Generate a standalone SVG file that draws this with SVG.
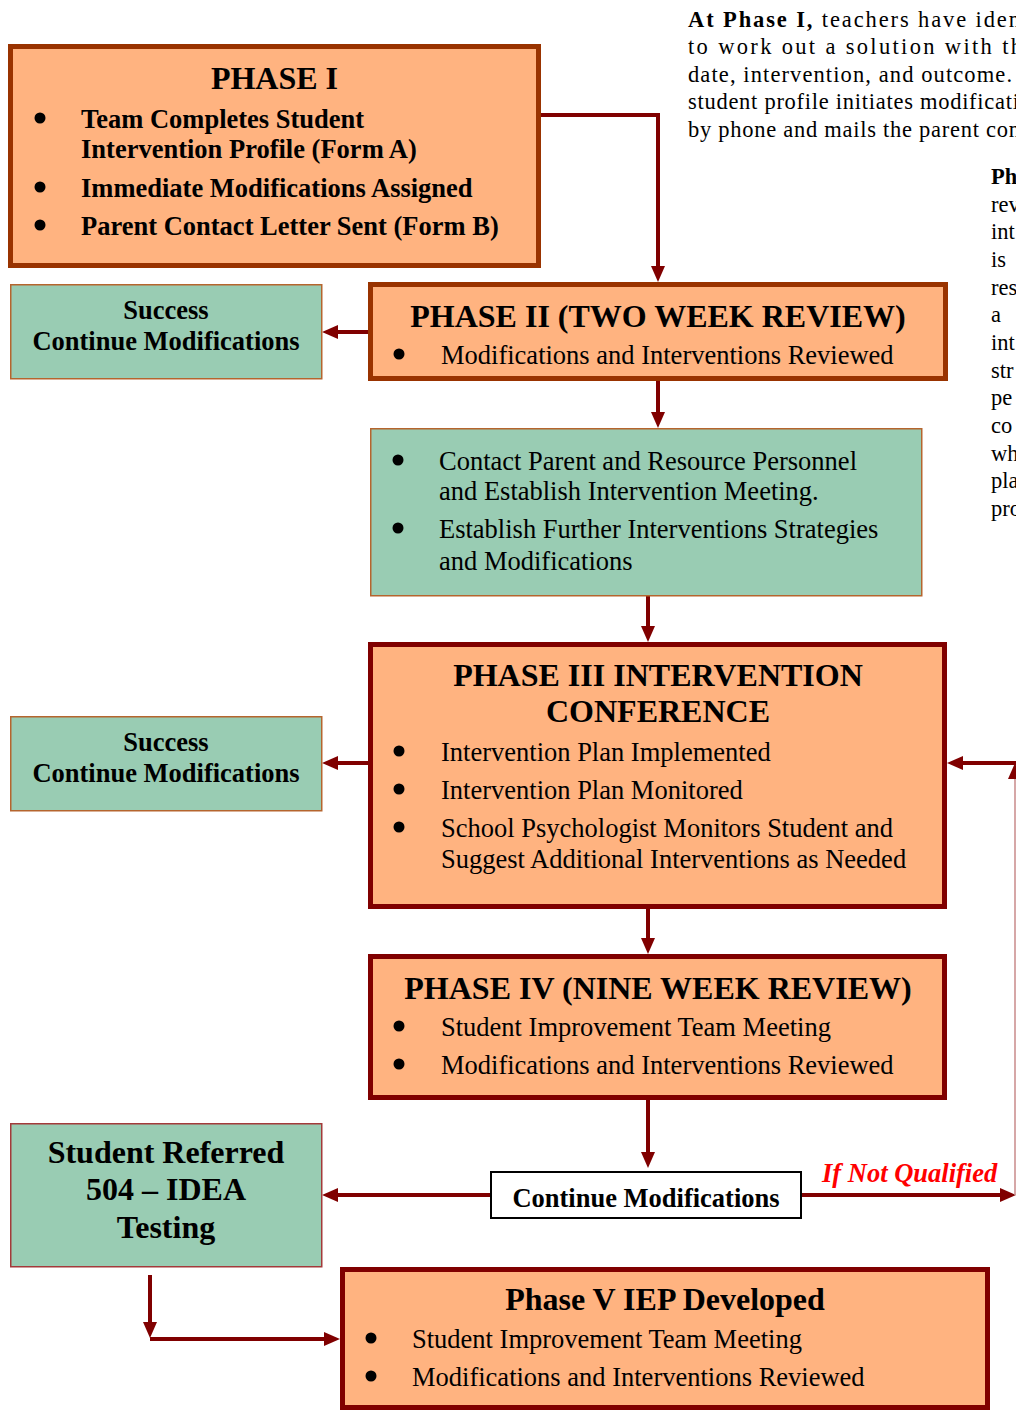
<svg xmlns="http://www.w3.org/2000/svg" width="1016" height="1411" viewBox="0 0 1016 1411">
  <style>
    text { font-family: "Liberation Serif", "Times New Roman", serif; fill: #000; }
    .ttl { font-size: 32px; font-weight: bold; text-anchor: middle; }
    .itm { font-size: 26.5px; }
    .itb { font-size: 26.5px; font-weight: bold; }
    .ctr { text-anchor: middle; }
    .big { font-size: 32px; font-weight: bold; text-anchor: middle; }
    .para { font-size: 22.5px; }
    .phA { fill: #FFB380; stroke: #993300; stroke-width: 5; }
    .phB { fill: #FFB380; stroke: #800000; stroke-width: 5; }
    .grn { fill: #99CCB3; stroke: #B5652E; stroke-width: 1.5; }
    .grr { fill: #99CCB3; stroke: #A33A3A; stroke-width: 1.5; }
    .wht { fill: #FFFFFF; stroke: #000; stroke-width: 2; }
    .dot { fill: #000; }
    .arr { fill: none; stroke: #800000; stroke-width: 4; marker-end: url(#ah); }
    .red { font-size: 26.5px; font-weight: bold; font-style: italic; fill: #FF0000; }
  </style>
  <defs>
    <marker id="ah" viewBox="0 0 16 14" refX="8" refY="7" markerWidth="16" markerHeight="14" markerUnits="userSpaceOnUse" orient="auto">
      <path d="M0,0 L16,7 L0,14 z" fill="#800000"/>
    </marker>
  </defs>

  <!-- explanatory paragraph, top right (runs past the page edge) -->
  <g id="notes">
    <text class="para" x="688" y="27" textLength="332" lengthAdjust="spacing"><tspan font-weight="bold">At Phase I,</tspan> teachers have iden</text>
    <text class="para" x="688" y="54" textLength="334" lengthAdjust="spacing">to work out a solution with th</text>
    <text class="para" x="688" y="82" textLength="324" lengthAdjust="spacing">date, intervention, and outcome.</text>
    <text class="para" x="688" y="109" textLength="331" lengthAdjust="spacing">student profile initiates modificati</text>
    <text class="para" x="688" y="137" textLength="332" lengthAdjust="spacing">by phone and mails the parent con</text>
    <text class="para" x="991" y="184" font-weight="bold">Ph</text>
    <text class="para" x="991" y="212">rev</text>
    <text class="para" x="991" y="239">int</text>
    <text class="para" x="991" y="267">is</text>
    <text class="para" x="991" y="295">res</text>
    <text class="para" x="991" y="322">a</text>
    <text class="para" x="991" y="350">int</text>
    <text class="para" x="991" y="378">str</text>
    <text class="para" x="991" y="405">pe</text>
    <text class="para" x="991" y="433">co</text>
    <text class="para" x="991" y="461">wh</text>
    <text class="para" x="991" y="488">pla</text>
    <text class="para" x="991" y="516">pro</text>
  </g>

  <!-- connectors -->
  <g id="connectors">
    <path class="arr" d="M541,115 H658 V274"/>
    <path class="arr" d="M368,332 H330"/>
    <path class="arr" d="M658,381 V420"/>
    <path class="arr" d="M648,596 V634"/>
    <path class="arr" d="M368,763 H330"/>
    <path class="arr" d="M648,909 V946"/>
    <path class="arr" d="M648,1100 V1160"/>
    <path class="arr" d="M490,1195 H330"/>
    <path class="arr" d="M802,1195 H1008"/>
    <path class="arr" d="M1016,763 H955"/>
    <path d="M1015,1195 V772" fill="none" stroke="#C98A8A" stroke-width="1.5"/>
    <path d="M1008,779 L1015,763 L1022,779 z" fill="#800000"/>
    <path class="arr" d="M150,1275 V1330"/>
    <path class="arr" d="M150,1339 H332"/>
    <text class="red" x="822" y="1182">If Not Qualified</text>
  </g>

  <g id="phase1">
    <rect class="phA" x="10.5" y="46.5" width="528" height="219"/>
    <text class="ttl" x="274.5" y="89">PHASE I</text>
    <circle class="dot" cx="40" cy="118" r="5.5"/>
    <text class="itb" x="81" y="128">Team Completes Student</text>
    <text class="itb" x="81" y="158">Intervention Profile (Form A)</text>
    <circle class="dot" cx="40" cy="187" r="5.5"/>
    <text class="itb" x="81" y="197">Immediate Modifications Assigned</text>
    <circle class="dot" cx="40" cy="225" r="5.5"/>
    <text class="itb" x="81" y="235">Parent Contact Letter Sent (Form B)</text>
  </g>

  <g id="phase2">
    <rect class="phA" x="370.5" y="284.5" width="575" height="94"/>
    <text class="ttl" x="658" y="327">PHASE II (TWO WEEK REVIEW)</text>
    <circle class="dot" cx="399" cy="354" r="5.5"/>
    <text class="itm" x="441" y="364">Modifications and Interventions Reviewed</text>
  </g>

  <g id="success1">
    <rect class="grn" x="10.75" y="284.75" width="311" height="94"/>
    <text class="itb ctr" x="166" y="319">Success</text>
    <text class="itb ctr" x="166" y="350">Continue Modifications</text>
  </g>

  <g id="followup">
    <rect class="grn" x="370.75" y="428.75" width="551" height="167"/>
    <circle class="dot" cx="398" cy="460" r="5.5"/>
    <text class="itm" x="439" y="470">Contact Parent and Resource Personnel</text>
    <text class="itm" x="439" y="500">and Establish Intervention Meeting.</text>
    <circle class="dot" cx="398" cy="528" r="5.5"/>
    <text class="itm" x="439" y="538">Establish Further Interventions Strategies</text>
    <text class="itm" x="439" y="570">and Modifications</text>
  </g>

  <g id="phase3">
    <rect class="phB" x="370.5" y="644.5" width="574" height="262"/>
    <text class="ttl" x="658" y="686">PHASE III INTERVENTION</text>
    <text class="ttl" x="658" y="722">CONFERENCE</text>
    <circle class="dot" cx="399" cy="751" r="5.5"/>
    <text class="itm" x="441" y="761">Intervention Plan Implemented</text>
    <circle class="dot" cx="399" cy="789" r="5.5"/>
    <text class="itm" x="441" y="799">Intervention Plan Monitored</text>
    <circle class="dot" cx="399" cy="827" r="5.5"/>
    <text class="itm" x="441" y="837">School Psychologist Monitors Student and</text>
    <text class="itm" x="441" y="868">Suggest Additional Interventions as Needed</text>
  </g>

  <g id="success2">
    <rect class="grn" x="10.75" y="716.75" width="311" height="94"/>
    <text class="itb ctr" x="166" y="751">Success</text>
    <text class="itb ctr" x="166" y="782">Continue Modifications</text>
  </g>

  <g id="phase4">
    <rect class="phB" x="370.5" y="956.5" width="574" height="141"/>
    <text class="ttl" x="658" y="999">PHASE IV (NINE WEEK REVIEW)</text>
    <circle class="dot" cx="399" cy="1026" r="5.5"/>
    <text class="itm" x="441" y="1036">Student Improvement Team Meeting</text>
    <circle class="dot" cx="399" cy="1064" r="5.5"/>
    <text class="itm" x="441" y="1074">Modifications and Interventions Reviewed</text>
  </g>

  <g id="continue">
    <rect class="wht" x="491" y="1172" width="310" height="46"/>
    <text class="itb ctr" x="646" y="1207">Continue Modifications</text>
  </g>

  <g id="referral">
    <rect class="grr" x="10.75" y="1123.75" width="311" height="143"/>
    <text class="big" x="166" y="1163">Student Referred</text>
    <text class="big" x="166" y="1200">504 – IDEA</text>
    <text class="big" x="166" y="1238">Testing</text>
  </g>

  <g id="phase5">
    <rect class="phB" x="342.5" y="1269.5" width="645" height="138"/>
    <text class="ttl" x="665" y="1310">Phase V IEP Developed</text>
    <circle class="dot" cx="371" cy="1338" r="5.5"/>
    <text class="itm" x="412" y="1348">Student Improvement Team Meeting</text>
    <circle class="dot" cx="371" cy="1376" r="5.5"/>
    <text class="itm" x="412" y="1386">Modifications and Interventions Reviewed</text>
  </g>
</svg>
